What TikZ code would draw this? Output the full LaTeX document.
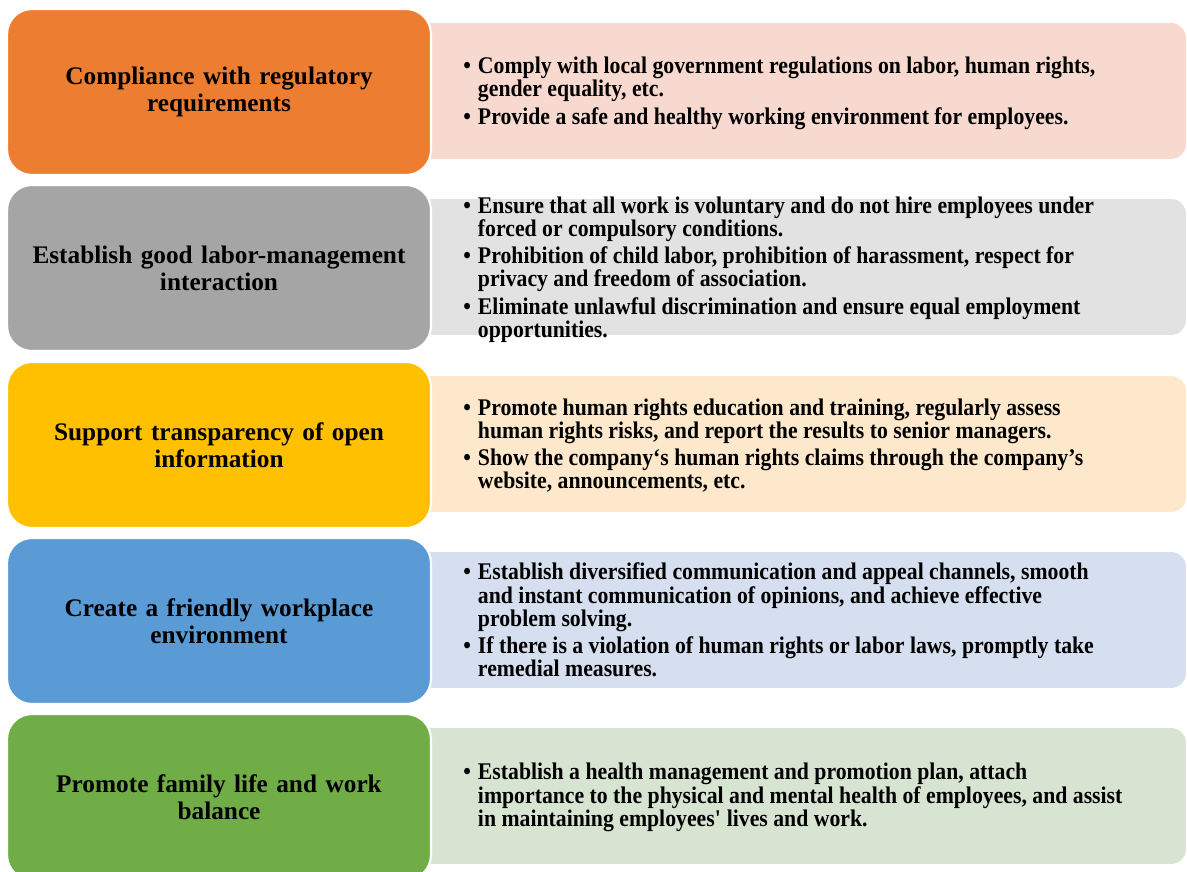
\documentclass[tikz,border=0pt]{standalone}
\usepackage{fontspec}
\setmainfont{Liberation Serif}
\newfontfamily\condfont[FakeStretch=0.91]{Liberation Serif}
\usetikzlibrary{positioning}

\definecolor{cOrange}{HTML}{ED7D31}
\definecolor{cGray}{HTML}{A5A5A5}
\definecolor{cYellow}{HTML}{FFC000}
\definecolor{cBlue}{HTML}{5B9BD5}
\definecolor{cGreen}{HTML}{70AD47}
\definecolor{lOrange}{HTML}{F8D9CF}
\definecolor{lGray}{HTML}{E2E2E2}
\definecolor{lYellow}{HTML}{FEE8CB}
\definecolor{lBlue}{HTML}{D6DFEF}
\definecolor{lGreen}{HTML}{D8E4D2}

% bullet list set in two columns: bullet, text
\newcommand{\bullist}[1]{{\condfont\bfseries\fontsize{13.6}{12.2}\selectfont
  \begin{tabular}{@{}l@{\hspace{4pt}}l@{}}#1\end{tabular}}}
\newcommand{\bul}{\textbullet}

\begin{document}
\begin{tikzpicture}[
    x=0.02cm, y=-0.02cm,
    head/.style={rectangle, rounded corners=0.5cm, draw=white, line width=1.2pt,
      minimum width=8.48cm, minimum height=3.32cm, text width=7.8cm, align=center,
      inner sep=0pt, font=\bfseries\fontsize{14.4}{15.3}\selectfont},
    panel/.style={rectangle, rounded corners=0.3cm, minimum width=15.72cm,
      minimum height=2.72cm},
    points/.style={anchor=west, inner sep=0pt, align=left}
  ]
  \clip (0,0) rectangle (1187,872);

  % light panels on the right
  \node[panel, fill=lOrange] (p1) at (793,91)  {};
  \node[panel, fill=lGray]   (p2) at (793,267) {};
  \node[panel, fill=lYellow] (p3) at (793,444) {};
  \node[panel, fill=lBlue]   (p4) at (793,620) {};
  \node[panel, fill=lGreen]  (p5) at (793,796) {};

  % coloured headings on the left
  \node[head, fill=cOrange] (h1) at (219,92)  {Compliance with regulatory\\requirements};
  \node[head, fill=cGray]   (h2) at (219,268) {Establish good labor-management\\interaction};
  \node[head, fill=cYellow] (h3) at (219,445) {Support transparency of open\\information};
  \node[head, fill=cBlue]   (h4) at (219,621) {Create a friendly workplace\\environment};
  \node[head, fill=cGreen]  (h5) at (219,797) {Promote family life and work\\balance};

  % bullet texts
  \node[points] (t1) at (463,94) {\bullist{
    \bul & Comply with local government regulations on labor, human rights,\\
         & gender equality, etc.\\[2.3pt]
    \bul & Provide a safe and healthy working environment for employees.}};
  \node[points] (t2) at (463,270) {\bullist{
    \bul & Ensure that all work is voluntary and do not hire employees under\\
         & forced or compulsory conditions.\\[2.3pt]
    \bul & Prohibition of child labor, prohibition of harassment, respect for\\
         & privacy and freedom of association.\\[2.3pt]
    \bul & Eliminate unlawful discrimination and ensure equal employment\\
         & opportunities.}};
  \node[points] (t3) at (463,447) {\bullist{
    \bul & Promote human rights education and training, regularly assess\\
         & human rights risks, and report the results to senior managers.\\[2.3pt]
    \bul & Show the company‘s human rights claims through the company’s\\
         & website, announcements, etc.}};
  \node[points] (t4) at (463,623) {\bullist{
    \bul & Establish diversified communication and appeal channels, smooth\\
         & and instant communication of opinions, and achieve effective\\
         & problem solving.\\[2.3pt]
    \bul & If there is a violation of human rights or labor laws, promptly take\\
         & remedial measures.}};
  \node[points] (t5) at (463,798) {\bullist{
    \bul & Establish a health management and promotion plan, attach\\
         & importance to the physical and mental health of employees, and assist\\
         & in maintaining employees\textquotesingle{} lives and work.}};
\end{tikzpicture}
\end{document}
